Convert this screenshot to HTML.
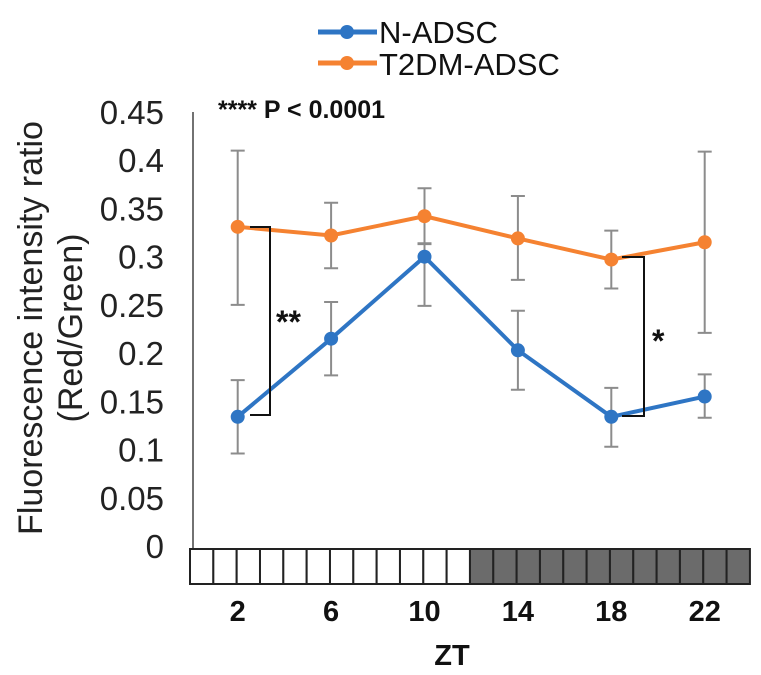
<!DOCTYPE html>
<html><head><meta charset="utf-8"><style>
body{margin:0;background:#fff;}
svg{display:block;font-family:"Liberation Sans",sans-serif;}
</style></head><body>
<svg id="chart" width="761" height="675" viewBox="0 0 761 675">
<g id="legend">
 <g>
  <line x1="318" y1="32" x2="377" y2="32" stroke="#2e75c4" stroke-width="5"/>
  <circle cx="347" cy="32" r="7" fill="#2e75c4"/>
  <text x="379" y="43" font-size="31" fill="#111">N-ADSC</text>
 </g>
 <g>
  <line x1="318" y1="63" x2="377" y2="63" stroke="#f58231" stroke-width="5"/>
  <circle cx="347" cy="63" r="7" fill="#f58231"/>
  <text x="379" y="75" font-size="31" fill="#111">T2DM-ADSC</text>
 </g>
</g>
<text x="218" y="118" font-size="25" font-weight="bold" fill="#111">**** P &lt; 0.0001</text>
<text transform="translate(42,328) rotate(-90)" text-anchor="middle" font-size="34" fill="#222">Fluorescence intensity ratio</text>
<text transform="translate(82,328) rotate(-90)" text-anchor="middle" font-size="34" fill="#222">(Red/Green)</text>
<line x1="193" y1="112" x2="193" y2="548" stroke="#444" stroke-width="1.5"/>
<g id="yticks"></g>
<g id="lightbar"></g>
<g id="xticks"></g>
<text x="452" y="665" text-anchor="middle" font-size="29" font-weight="bold" fill="#111">ZT</text>
<g id="series"></g>
<g>
 <path d="M250 227 H270 V415 H250" fill="none" stroke="#111" stroke-width="2"/>
 <text x="276" y="333" font-size="32" font-weight="bold" fill="#111">**</text>
</g>
<g>
 <path d="M622 257 H644 V416 H622" fill="none" stroke="#111" stroke-width="2"/>
 <text x="652" y="352" font-size="32" font-weight="bold" fill="#111">*</text>
</g>
</svg>
<script>
const zt=[2,6,10,14,18,22];
const yTicks=["0","0.05","0.1","0.15","0.2","0.25","0.3","0.35","0.4","0.45"];
const nMean=[0.135,0.216,0.301,0.204,0.135,0.156];
const nHi=[0.173,0.254,0.315,0.245,0.165,0.179];
const nLo=[0.097,0.178,0.250,0.163,0.104,0.134];
const tMean=[0.332,0.323,0.343,0.320,0.298,0.316];
const tHi=[0.411,0.357,0.372,0.364,0.328,0.410];
const tLo=[0.251,0.289,0.314,0.277,0.268,0.222];
const NS="http://www.w3.org/2000/svg";
const xs=h=>191+h*23.35;
const ys=v=>547-v*964.4;
function mk(tag,attrs,parent){const e=document.createElementNS(NS,tag);for(const k in attrs)e.setAttribute(k,attrs[k]);parent.appendChild(e);return e;}
const yt=document.getElementById('yticks');
yTicks.forEach((t,i)=>{const e=mk('text',{x:164,y:ys(+t)+11,'text-anchor':'end','font-size':33,fill:'#222'},yt);e.textContent=t;

});
const lb=document.getElementById('lightbar');
for(let i=0;i<24;i++){const r=mk('rect',{x:190+i*23.33,y:549,width:23.33,height:35,fill:i<12?'#fff':'#6b6b6b',stroke:'#222','stroke-width':2},lb);

}
const xt=document.getElementById('xticks');
zt.forEach(h=>{const e=mk('text',{x:xs(h),y:621,'text-anchor':'middle','font-size':29,'font-weight':'bold',fill:'#111'},xt);e.textContent=h;

});
const sg=document.getElementById('series');
function drawSeries(mean,hi,lo,color,name){
 const g=mk('g',{},sg);
 
 
 zt.forEach((h,i)=>{const x=xs(h);
  const l=mk('path',{d:`M${x-7} ${ys(hi[i])}H${x+7}M${x} ${ys(hi[i])}V${ys(lo[i])}M${x-7} ${ys(lo[i])}H${x+7}`,stroke:'#8c8c8c','stroke-width':2,fill:'none'},g);
  
  });
 const pl=mk('polyline',{points:zt.map((h,i)=>xs(h)+','+ys(mean[i])).join(' '),fill:'none',stroke:color,'stroke-width':4},g);
 
 
 zt.forEach((h,i)=>{const c=mk('circle',{cx:xs(h),cy:ys(mean[i]),r:7,fill:color},g);
  
  });
}
drawSeries(tMean,tHi,tLo,'#f58231','series-t2dm-adsc');
drawSeries(nMean,nHi,nLo,'#2e75c4','series-n-adsc');
</script>
</body></html>
